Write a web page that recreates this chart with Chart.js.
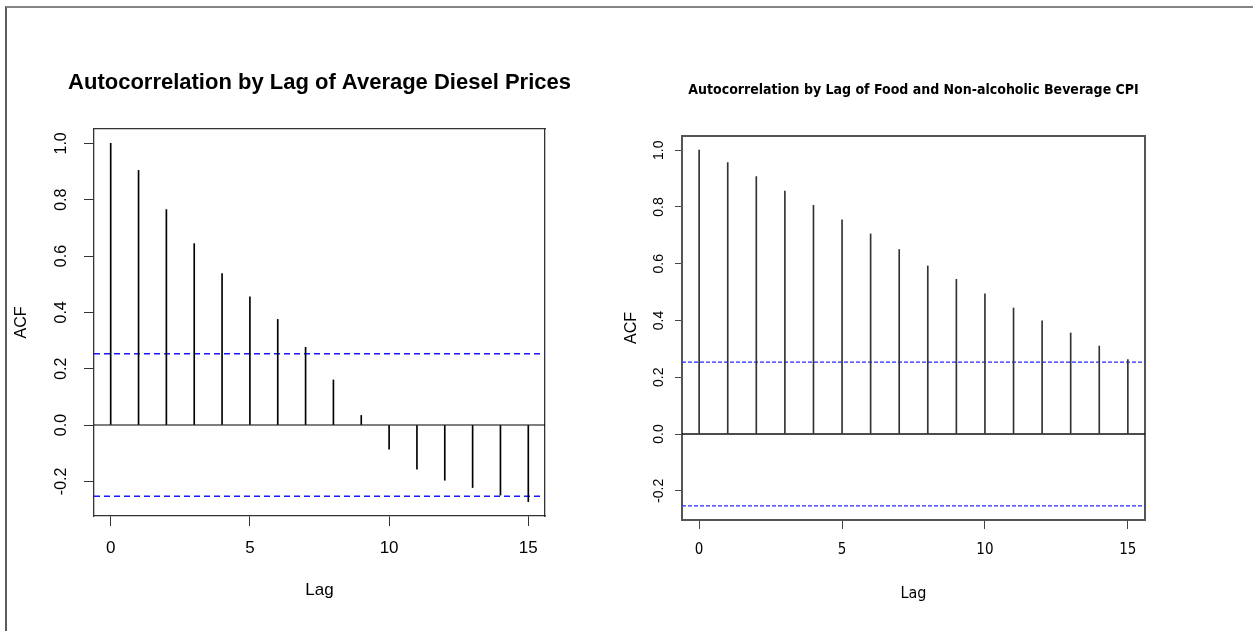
<!DOCTYPE html>
<html>
<head>
<meta charset="utf-8">
<script src="https://cdn.jsdelivr.net/npm/chart.js@4.4.0/dist/chart.umd.min.js"></script>
<style>
  body { margin: 0; background: #fff; width: 1253px; height: 631px; overflow: hidden; position: relative; }
  .frame { position: absolute; left: 5px; top: 6px; width: 1270px; height: 650px;
           border-top: 2px solid #858585; border-left: 2px solid #5c5c5c; }
  canvas { position: absolute; top: 0; }
</style>
</head>
<body>
<div class="frame"></div>
<canvas id="dieselChart" width="639" height="631" style="left:0"></canvas>
<canvas id="foodChart" width="587" height="631" style="left:620px"></canvas>
<script>
// lags shown on both plots
const lags = [0, 1, 2, 3, 4, 5, 6, 7, 8, 9, 10, 11, 12, 13, 14, 15];

// ACF values
const dieselAcf = [1.0, 0.904, 0.765, 0.644, 0.538, 0.455, 0.375, 0.276, 0.16, 0.034,
                   -0.086, -0.157, -0.196, -0.222, -0.249, -0.272];
const foodAcf = [1.0, 0.956, 0.907, 0.856, 0.806, 0.755, 0.705, 0.65, 0.592, 0.545,
                 0.494, 0.444, 0.399, 0.356, 0.31, 0.262];

// significance bounds (blue dashed lines)
const dieselCi = 0.253;
const foodCi = 0.253;

const lagTicks = [0, 5, 10, 15];
const acfTicks = [-0.2, 0, 0.2, 0.4, 0.6, 0.8, 1.0];

const regular = "'Liberation Sans', Arial, sans-serif";
const narrow = "'Liberation Sans Narrow', 'DejaVu Sans Condensed', 'Liberation Sans', sans-serif";

function makeAcfChart(id, titleText, acf, ci, s) {
  const xMin = -0.6, xMax = 15.6;
  const hLine = (y, color, dash, width) => ({
    type: 'line',
    data: [xMin, xMax].map(x => ({ x: x, y: y })),
    borderColor: color,
    borderWidth: width,
    borderDash: dash,
    pointRadius: 0,
    fill: false,
    xAxisID: 'x',
    yAxisID: 'y'
  });

  return new Chart(document.getElementById(id), {
    type: 'bar',
    data: {
      datasets: [
        {
          data: lags.map((l, i) => ({ x: l, y: acf[i] })),
          backgroundColor: s.spike,
          barThickness: 1,
          xAxisID: 'x',
          yAxisID: 'y'
        },
        hLine(0, s.zero, [], s.zeroWidth),
        hLine(ci, s.blue, s.dash, s.dashWidth),
        hLine(-ci, s.blue, s.dash, s.dashWidth)
      ]
    },
    options: {
      responsive: false,
      animation: false,
      layout: { padding: 0 },
      plugins: {
        legend: { display: false },
        tooltip: { enabled: false },
        title: {
          display: true,
          text: titleText,
          color: '#000',
          font: s.titleFont,
          padding: s.titlePad
        }
      },
      scales: {
        x: {
          type: 'linear',
          position: 'bottom',
          min: xMin,
          max: xMax,
          offset: false,
          afterBuildTicks: sc => { sc.ticks = lagTicks.map(v => ({ value: v })); },
          afterFit: sc => { sc.height = s.xAxisH; },
          grid: { display: true, drawOnChartArea: false, offset: false, tickLength: s.xTickLen, color: s.tickColor },
          border: { display: true, color: s.boxColor, width: s.boxWidth },
          ticks: { color: '#000', font: s.xTickFont, padding: s.xTickPad, maxRotation: 0, callback: v => String(v) },
          title: { display: true, text: 'Lag', color: '#000', font: s.xTitleFont, padding: { top: 0, bottom: s.xTitlePad } }
        },
        y: {
          type: 'linear',
          position: 'left',
          min: s.yMin,
          max: s.yMax,
          afterBuildTicks: sc => { sc.ticks = acfTicks.map(v => ({ value: v })); },
          afterFit: sc => { sc.width = s.yAxisW; },
          grid: { display: true, drawOnChartArea: false, tickLength: s.yTickLen, color: s.tickColor },
          border: { display: true, color: s.boxColor, width: s.boxWidth },
          ticks: { color: '#000', font: s.yTickFont, padding: s.yTickPad, minRotation: 90, maxRotation: 90,
                   crossAlign: 'center', callback: v => v.toFixed(1) },
          title: { display: true, text: 'ACF', color: '#000', font: s.yTitleFont, padding: { top: s.yTitlePad, bottom: 0 } }
        },
        x2: {
          type: 'linear',
          position: 'top',
          display: true,
          min: xMin,
          max: xMax,
          afterFit: sc => { sc.height = s.topH; },
          grid: { display: false },
          ticks: { display: false },
          border: { display: true, color: s.boxColor, width: s.boxWidth }
        },
        y2: {
          type: 'linear',
          position: 'right',
          display: true,
          min: s.yMin,
          max: s.yMax,
          afterFit: sc => { sc.width = s.sideW; },
          grid: { display: false },
          ticks: { display: false },
          border: { display: true, color: s.boxColor, width: s.boxWidth }
        }
      }
    }
  });
}

makeAcfChart('dieselChart', 'Autocorrelation by Lag of Average Diesel Prices', dieselAcf, dieselCi, {
  yMin: -0.323, yMax: 1.051,
  spike: '#000', zero: '#000', zeroWidth: 1.2, blue: 'rgb(25,25,255)', dash: [6, 4], dashWidth: 1.4,
  boxColor: '#333', boxWidth: 1.3, tickColor: '#333',
  titleFont: { family: regular, size: 22, weight: 'bold', lineHeight: 1.2 },
  titlePad: { top: 69.8, bottom: 10 },
  topH: 22.8, sideW: 94, yAxisW: 94, xAxisH: 115,
  xTickLen: 10, xTickFont: { family: regular, size: 17, lineHeight: 1.2 }, xTickPad: 11.8,
  xTitleFont: { family: regular, size: 17, lineHeight: 1.2 }, xTitlePad: 30.8,
  yTickLen: 10, yTickFont: { family: regular, size: 16, lineHeight: 1.2 }, yTickPad: 8.2,
  yTitleFont: { family: regular, size: 16, lineHeight: 1.2 }, yTitlePad: 12
});

makeAcfChart('foodChart', 'Autocorrelation by Lag of Food and Non-alcoholic Beverage CPI', foodAcf, foodCi, {
  yMin: -0.303, yMax: 1.05,
  spike: '#333', zero: '#111', zeroWidth: 1.5, blue: 'rgb(40,40,255)', dash: [4, 2], dashWidth: 1.2,
  boxColor: '#555', boxWidth: 2, tickColor: '#444',
  titleFont: { family: narrow, size: 14, weight: 'bold', lineHeight: 1.2 },
  titlePad: { top: 81.6, bottom: 10 },
  topH: 27.6, sideW: 62, yAxisW: 62, xAxisH: 111,
  xTickLen: 9, xTickFont: { family: narrow, size: 15, lineHeight: 1.2 }, xTickPad: 12,
  xTitleFont: { family: narrow, size: 16, lineHeight: 1.2 }, xTitlePad: 27.4,
  yTickLen: 7, yTickFont: { family: regular, size: 14, lineHeight: 1.2 }, yTickPad: 4,
  yTitleFont: { family: regular, size: 16, lineHeight: 1.2 }, yTitlePad: 2.4
});
</script>
</body>
</html>
